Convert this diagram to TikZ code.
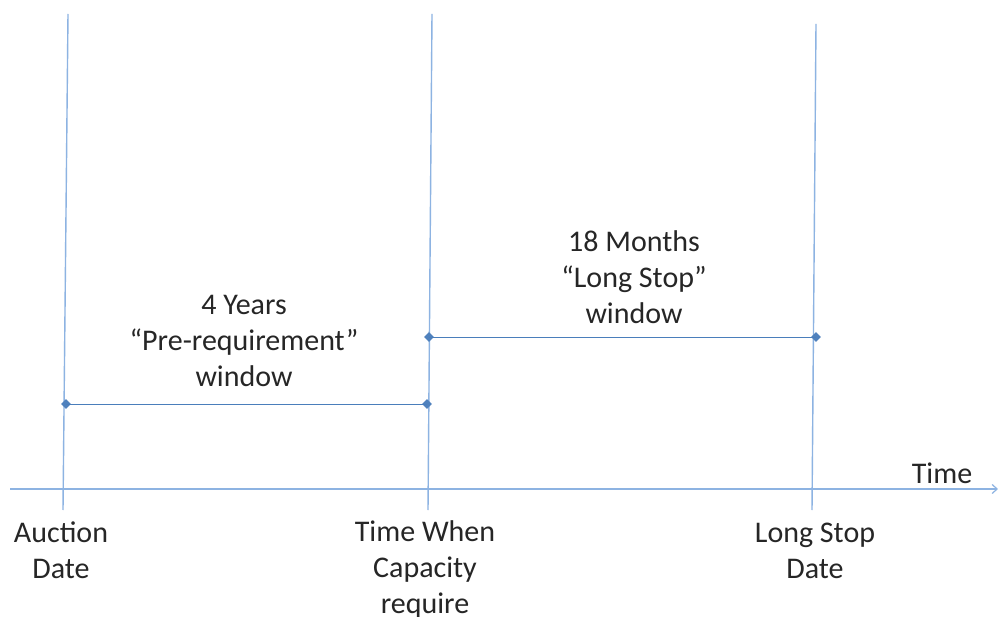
\documentclass[tikz,border=0pt]{standalone}
\usepackage{fontspec}
\setmainfont{Carlito}
\usetikzlibrary{arrows.meta,calc,shapes.geometric}
\definecolor{vline}{HTML}{8DB3E2}
\definecolor{wline}{HTML}{4A7EBB}
\definecolor{dmd}{HTML}{4F81BD}
\tikzset{
  marker/.style={diamond,fill=dmd,inner sep=0pt,minimum size=10pt},
  lbl/.style={align=center,font=\fontsize{30}{36}\selectfont,text=black!85,anchor=base,inner sep=0pt},
  vl/.style={draw=vline,line width=1.4pt},
  wl/.style={draw=wline,line width=0.9pt}
}
\begin{document}
\begin{tikzpicture}[x=1pt,y=-1pt]
\useasboundingbox[fill=white] (0,0) rectangle (998,617);
% vertical lines
\coordinate (a1) at (68,14); \coordinate (a2) at (63,510);
\coordinate (b1) at (432,14); \coordinate (b2) at (428,510);
\coordinate (c1) at (816,24); \coordinate (c2) at (812,510);
\draw[vl] (a1) -- (a2);
\draw[vl] (b1) -- (b2);
\draw[vl] (c1) -- (c2);
% axis
\coordinate (ax0) at (10,489); \coordinate (ax1) at (998,489);
\draw[vl,line width=1.2pt,-{Straight Barb[length=5pt,width=9pt]}] (ax0) -- (ax1);
% windows
\node[marker] (p1) at (66,404) {};
\node[marker] (p2) at (427,404) {};
\node[marker] (q1) at (429,337) {};
\node[marker] (q2) at (816,337) {};
\draw[wl] (p1.center) -- (p2.center);
\draw[wl] (q1.center) -- (q2.center);
% labels (anchor = baseline of last line)
\node[lbl] (time) at (942,483) {Time};
\node[lbl] (auction) at (61,578) {Auction\\Date};
\node[lbl] (capacity) at (425,613) {Time When\\Capacity\\require};
\node[lbl] (longstop) at (815,578) {Long Stop\\Date};
\node[lbl] (pre) at (244,386) {4 Years\\“Pre-requirement”\\window};
\node[lbl] (ls) at (634,324) {18 Months\\“Long Stop”\\window};
\end{tikzpicture}
\end{document}
